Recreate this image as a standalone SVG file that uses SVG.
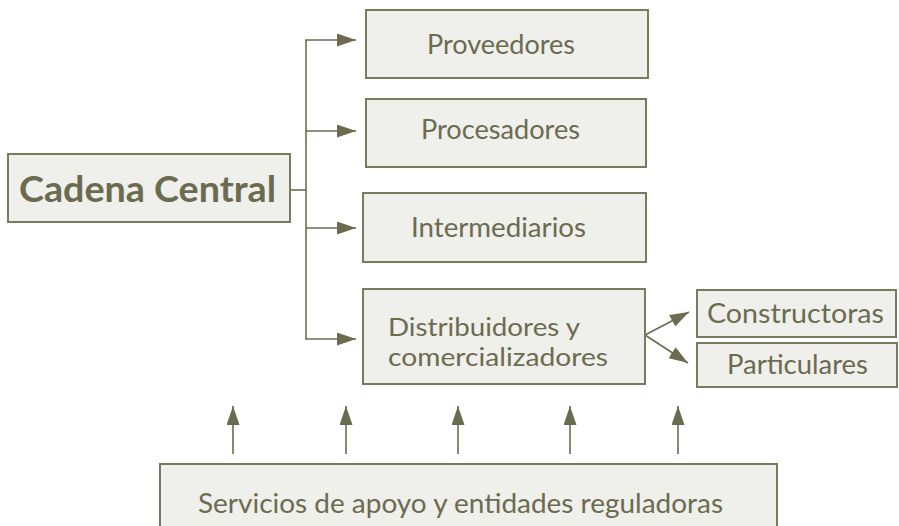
<svg xmlns="http://www.w3.org/2000/svg" width="899" height="526" viewBox="0 0 899 526">
<defs>
<style>
.box{fill:#efefeb;stroke:#7a7a5f;stroke-width:2}
.t{font-family:Lato,"Open Sans","Liberation Sans",sans-serif;font-size:27px;fill:#6b6b50}
.t2{font-family:Lato,"Open Sans","Liberation Sans",sans-serif;font-size:25px;fill:#6b6b50}
.tb{font-family:Lato,"Open Sans","Liberation Sans",sans-serif;font-size:37px;font-weight:bold;fill:#6b6b50}
.c{fill:none;stroke:#6b6b50;stroke-width:1.6}
</style>
<marker id="ah" markerUnits="userSpaceOnUse" markerWidth="20" markerHeight="13" refX="19" refY="6.5" orient="auto">
<path d="M0,0 L19,6.5 L0,13 z" fill="#6b6b50"/>
</marker>
</defs>
<rect width="899" height="526" fill="#ffffff"/>
<g id="connectors">
<line class="c" x1="290" y1="190" x2="306" y2="190" stroke="#5e5046"/>
<line class="c" x1="306" y1="40" x2="306" y2="339"/>
<line class="c" x1="305.2" y1="40" x2="356" y2="40" marker-end="url(#ah)"/>
<line class="c" x1="306" y1="131" x2="356" y2="131" marker-end="url(#ah)"/>
<line class="c" x1="306" y1="228" x2="356" y2="228" marker-end="url(#ah)"/>
<line class="c" x1="305.2" y1="339" x2="356" y2="339" marker-end="url(#ah)"/>
<line class="c" x1="645" y1="335" x2="689" y2="312" marker-end="url(#ah)"/>
<line class="c" x1="645" y1="335" x2="688" y2="363" marker-end="url(#ah)"/>
<line class="c" x1="233" y1="454" x2="233" y2="406" marker-end="url(#ah)"/>
<line class="c" x1="346" y1="454" x2="346" y2="406" marker-end="url(#ah)"/>
<line class="c" x1="458" y1="454" x2="458" y2="406" marker-end="url(#ah)"/>
<line class="c" x1="570" y1="454" x2="570" y2="406" marker-end="url(#ah)"/>
<line class="c" x1="678" y1="454" x2="678" y2="406" marker-end="url(#ah)"/>
</g>
<g id="cadena">
<rect class="box" x="8" y="154" width="282" height="68"/>
<text class="tb" x="19" y="202" textLength="257" lengthAdjust="spacingAndGlyphs">Cadena Central</text>
</g>
<g id="proveedores">
<rect class="box" x="366" y="10" width="282" height="68"/>
<text class="t" x="427" y="54" textLength="148" lengthAdjust="spacingAndGlyphs">Proveedores</text>
</g>
<g id="procesadores">
<rect class="box" x="366" y="99" width="280" height="68"/>
<text class="t" x="421" y="139" textLength="159" lengthAdjust="spacingAndGlyphs">Procesadores</text>
</g>
<g id="intermediarios">
<rect class="box" x="363" y="193" width="283" height="69"/>
<text class="t" x="411" y="237" textLength="175" lengthAdjust="spacingAndGlyphs">Intermediarios</text>
</g>
<g id="distribuidores">
<rect class="box" x="363" y="289" width="282" height="95"/>
<text class="t2" x="388" y="336" textLength="192" lengthAdjust="spacingAndGlyphs">Distribuidores y</text>
<text class="t2" x="388" y="366" textLength="220" lengthAdjust="spacingAndGlyphs">comercializadores</text>
</g>
<g id="constructoras">
<rect class="box" x="697" y="290" width="199" height="47"/>
<text class="t" x="707" y="323" textLength="177" lengthAdjust="spacingAndGlyphs">Constructoras</text>
</g>
<g id="particulares">
<rect class="box" x="697" y="343" width="200" height="44"/>
<text class="t" x="727" y="374" textLength="141" lengthAdjust="spacingAndGlyphs">Particulares</text>
</g>
<g id="servicios">
<rect class="box" x="160" y="464" width="617" height="70"/>
<text class="t" x="198" y="513" textLength="525" lengthAdjust="spacingAndGlyphs">Servicios de apoyo y entidades reguladoras</text>
</g>
</svg>
